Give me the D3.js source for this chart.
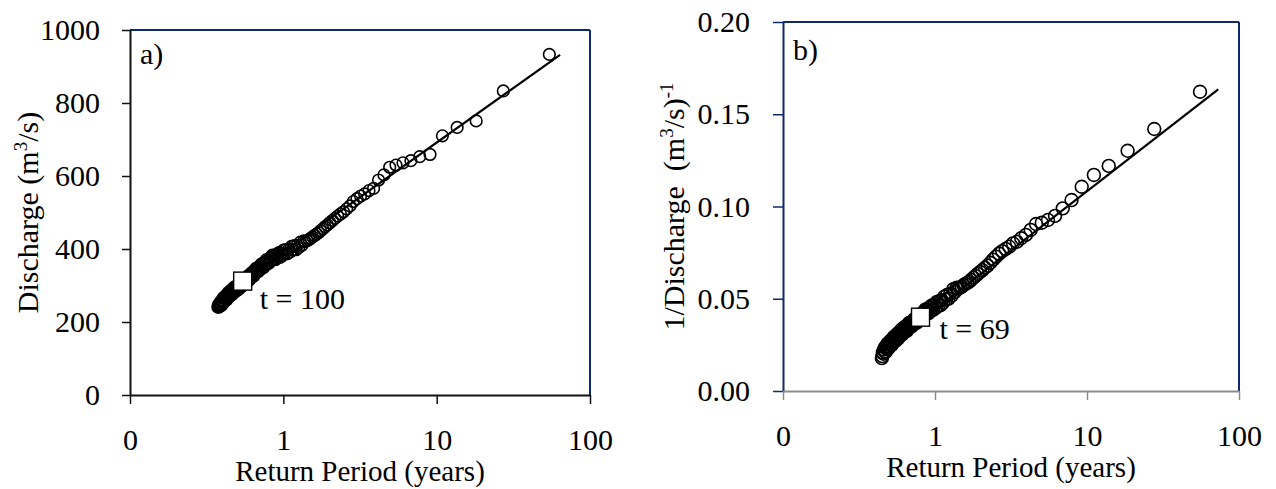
<!DOCTYPE html>
<html>
<head>
<meta charset="utf-8">
<script src="https://cdn.jsdelivr.net/npm/d3@7"></script>
<style>
  body { margin: 0; background: #fff; }
</style>
</head>
<body>
<svg id="chart" width="1276" height="489"></svg>
<script>
// Return period (years) and discharge (m3/s), panel a
const leftPeriod = [54.3, 27.2, 18.1, 13.6, 10.9, 9.05, 7.76, 6.79, 6.03, 5.43,
  4.94, 4.53, 4.18, 3.88, 3.62, 3.39, 3.19, 3.02, 2.86, 2.72,
  2.59, 2.47, 2.36, 2.26, 2.17, 2.09, 2.01, 1.94, 1.87, 1.81,
  1.75, 1.70, 1.65, 1.60, 1.55, 1.51, 1.47, 1.43, 1.39, 1.36,
  1.32, 1.29, 1.26, 1.23, 1.21, 1.18, 1.16, 1.13, 1.11, 1.09,
  1.06, 1.04, 1.02, 1.01, 0.987, 0.970, 0.953, 0.936, 0.920, 0.905,
  0.890, 0.876, 0.862, 0.848, 0.835, 0.823, 0.810, 0.799, 0.787, 0.776,
  0.765, 0.754, 0.744, 0.734, 0.724, 0.714, 0.705, 0.696, 0.687, 0.679,
  0.670, 0.662, 0.654, 0.646, 0.639, 0.631, 0.624, 0.617, 0.610, 0.603,
  0.597, 0.590, 0.584, 0.578, 0.572, 0.566, 0.560, 0.554, 0.548, 0.543,
  0.538, 0.532, 0.527, 0.522, 0.517, 0.512, 0.507, 0.503, 0.498, 0.494,
  0.489, 0.485, 0.481, 0.476, 0.472, 0.468, 0.464, 0.460, 0.456, 0.453,
  0.449, 0.445, 0.441, 0.438, 0.434, 0.431, 0.428, 0.424, 0.421, 0.418,
  0.415, 0.411, 0.408, 0.405, 0.402, 0.399, 0.396, 0.394, 0.391, 0.388,
  0.385, 0.382, 0.380, 0.377, 0.374];
const leftDischarge = [933, 833, 751, 733, 710, 659, 653, 642, 636, 630,
  624, 603, 589, 566, 560, 551, 545, 538, 530, 518,
  510, 502, 496, 490, 484, 478, 472, 466, 461, 455,
  450, 445, 441, 437, 433, 429, 426, 423, 420, 422,
  410, 419, 404, 410, 398, 409, 398, 407, 392, 400,
  387, 398, 387, 398, 382, 389, 377, 390, 379, 386,
  371, 382, 371, 383, 369, 377, 362, 370, 359, 371,
  357, 364, 349, 361, 350, 358, 343, 351, 338, 349,
  336, 347, 333, 340, 325, 337, 326, 334, 319, 327,
  314, 327, 313, 321, 308, 317, 303, 316, 305, 312,
  298, 307, 296, 308, 295, 303, 288, 301, 291, 299,
  285, 294, 282, 295, 282, 290, 275, 288, 278, 286,
  272, 280, 268, 281, 268, 275, 261, 273, 263, 271,
  257, 265, 253, 266, 253, 260, 246, 258, 248, 254,
  243, 250, 241, 246, 241];
const leftFitPeriod = [0.374, 63.8];
const leftFitDischarge = [265, 932];
const leftMarkPeriod = [0.543];
const leftMarkDischarge = [312];

// Return period (years) and 1/discharge, panel b
const rightPeriod = [55.4, 27.7, 18.5, 13.9, 11.1, 9.23, 7.91, 6.93, 6.16, 5.54,
  5.04, 4.62, 4.26, 3.96, 3.69, 3.46, 3.26, 3.08, 2.92, 2.77,
  2.64, 2.52, 2.41, 2.31, 2.22, 2.13, 2.05, 1.98, 1.91, 1.85,
  1.79, 1.73, 1.68, 1.63, 1.58, 1.54, 1.50, 1.46, 1.42, 1.39,
  1.35, 1.32, 1.29, 1.26, 1.23, 1.20, 1.18, 1.15, 1.13, 1.11,
  1.09, 1.07, 1.05, 1.03, 1.01, 0.989, 0.972, 0.955, 0.939, 0.923,
  0.908, 0.894, 0.879, 0.866, 0.852, 0.839, 0.827, 0.815, 0.803, 0.791,
  0.780, 0.769, 0.759, 0.749, 0.739, 0.729, 0.719, 0.710, 0.701, 0.693,
  0.684, 0.676, 0.667, 0.660, 0.652, 0.644, 0.637, 0.630, 0.622, 0.616,
  0.609, 0.602, 0.596, 0.589, 0.583, 0.577, 0.571, 0.565, 0.560, 0.554,
  0.549, 0.543, 0.538, 0.533, 0.528, 0.523, 0.518, 0.513, 0.508, 0.504,
  0.499, 0.495, 0.490, 0.486, 0.482, 0.478, 0.474, 0.469, 0.466, 0.462,
  0.458, 0.454, 0.450, 0.447];
const rightInverse = [0.1622, 0.1420, 0.1302, 0.1220, 0.1171, 0.1107, 0.1035, 0.0990, 0.0949, 0.0927,
  0.0912, 0.0905, 0.0873, 0.0846, 0.0828, 0.0809, 0.0800, 0.0782, 0.0770, 0.0758,
  0.0745, 0.0728, 0.0712, 0.0695, 0.0680, 0.0668, 0.0655, 0.0645, 0.0635, 0.0624,
  0.0614, 0.0603, 0.0592, 0.0586, 0.0580, 0.0573, 0.0566, 0.0560, 0.0555, 0.0560,
  0.0537, 0.0552, 0.0518, 0.0528, 0.0501, 0.0520, 0.0495, 0.0511, 0.0479, 0.0492,
  0.0465, 0.0487, 0.0463, 0.0483, 0.0451, 0.0465, 0.0439, 0.0464, 0.0440, 0.0454,
  0.0422, 0.0442, 0.0420, 0.0442, 0.0413, 0.0428, 0.0397, 0.0412, 0.0388, 0.0412,
  0.0385, 0.0399, 0.0370, 0.0394, 0.0372, 0.0389, 0.0359, 0.0376, 0.0350, 0.0372,
  0.0347, 0.0369, 0.0342, 0.0356, 0.0326, 0.0351, 0.0329, 0.0346, 0.0316, 0.0332,
  0.0307, 0.0333, 0.0306, 0.0322, 0.0295, 0.0313, 0.0284, 0.0310, 0.0287, 0.0301,
  0.0272, 0.0290, 0.0267, 0.0291, 0.0264, 0.0278, 0.0249, 0.0273, 0.0252, 0.0268,
  0.0238, 0.0255, 0.0229, 0.0256, 0.0228, 0.0242, 0.0212, 0.0236, 0.0214, 0.0225,
  0.0202, 0.0209, 0.0189, 0.0178];
const rightFitPeriod = [0.447, 73];
const rightFitInverse = [0.0219, 0.1635];
const rightMarkPeriod = [0.803];
const rightMarkInverse = [0.0400];

// axis ticks
const xTicks = [0.1, 1, 10, 100];
const xTickLabels = ['0', '1', '10', '100'];
const leftYTicks = [0, 200, 400, 600, 800, 1000];
const rightYTicks = [0, 0.05, 0.10, 0.15, 0.20];

const FONT = "'Liberation Serif', Tinos, 'Times New Roman', 'DejaVu Serif', serif";
const navy = '#0d2a6e';
const svg = d3.select('#chart').attr('font-family', FONT);

function drawPanel(cfg) {
  const x = d3.scaleLog().domain([0.1, 100]).range([cfg.left, cfg.right]);
  const y = d3.scaleLinear().domain(cfg.yDomain).range([cfg.bottom, cfg.top]);
  const g = svg.append('g');

  // frame: top and right edges
  g.append('line').attr('x1', cfg.left).attr('x2', cfg.right)
    .attr('y1', cfg.top).attr('y2', cfg.top)
    .attr('stroke', navy).attr('stroke-width', 2);
  g.append('line').attr('x1', cfg.right).attr('x2', cfg.right)
    .attr('y1', cfg.top).attr('y2', cfg.bottom)
    .attr('stroke', navy).attr('stroke-width', 2);

  // y axis
  const yAxis = g.append('g')
    .attr('transform', `translate(${cfg.left},0)`)
    .call(d3.axisLeft(y).tickValues(cfg.yTicks).tickFormat(cfg.yFormat)
      .tickSize(cfg.yTickSize).tickPadding(cfg.yPad).tickSizeOuter(0));
  yAxis.attr('font-family', FONT).attr('font-size', 30);
  yAxis.select('.domain').attr('stroke', cfg.yColor).attr('stroke-width', 2);
  yAxis.selectAll('.tick line').attr('stroke', cfg.yColor).attr('stroke-width', 1.5);
  yAxis.selectAll('.tick text').attr('fill', '#000');

  // x axis
  const xAxis = g.append('g')
    .attr('transform', `translate(0,${cfg.bottom})`)
    .call(d3.axisBottom(x).tickValues(xTicks)
      .tickFormat((d, i) => xTickLabels[i])
      .tickSize(9).tickPadding(25).tickSizeOuter(0));
  xAxis.attr('font-family', FONT).attr('font-size', 30);
  xAxis.select('.domain').attr('stroke', cfg.xColor).attr('stroke-width', 2);
  xAxis.selectAll('.tick line').attr('stroke', cfg.xColor).attr('stroke-width', 1.5);
  xAxis.selectAll('.tick text').attr('fill', '#000');

  // fitted line
  const fit = cfg.fitX.map((d, i) => [d, cfg.fitY[i]]);
  g.append('path')
    .attr('d', d3.line().x(d => x(d[0])).y(d => y(d[1]))(fit))
    .attr('fill', 'none').attr('stroke', '#000').attr('stroke-width', 2.2);

  // observations
  g.append('g').selectAll('circle')
    .data(cfg.xs.map((d, i) => [d, cfg.ys[i]]))
    .join('circle')
    .attr('cx', d => x(d[0]))
    .attr('cy', d => y(d[1]))
    .attr('r', cfg.r)
    .attr('fill', 'none')
    .attr('stroke', '#000')
    .attr('stroke-width', 1.6);

  // threshold marker
  const s = 18;
  g.append('g').selectAll('rect')
    .data(cfg.markX.map((d, i) => [d, cfg.markY[i]]))
    .join('rect')
    .attr('x', d => x(d[0]) - s / 2)
    .attr('y', d => y(d[1]) - s / 2)
    .attr('width', s).attr('height', s)
    .attr('fill', '#fff').attr('stroke', '#000').attr('stroke-width', 1.4);

  g.append('text')
    .attr('x', x(cfg.markX[0]) + cfg.markDx)
    .attr('y', y(cfg.markY[0]) + cfg.markDy)
    .attr('font-size', 30)
    .text(cfg.markLabel);

  // panel letter
  g.append('text').attr('x', cfg.left + 10).attr('y', cfg.top + cfg.letterDy)
    .attr('font-size', 30).text(cfg.letter);

  // x title
  g.append('text')
    .attr('x', (cfg.left + cfg.right) / 2).attr('y', cfg.xTitleY)
    .attr('text-anchor', 'middle').attr('font-size', 29)
    .text('Return Period (years)');

  // y title
  const yt = g.append('text')
    .attr('transform', `translate(${cfg.yTitleX},${(cfg.top + cfg.bottom) / 2}) rotate(-90)`)
    .attr('text-anchor', 'middle').attr('font-size', 30);
  cfg.yTitle(yt);
}

drawPanel({
  left: 130, right: 590, top: 30, bottom: 395,
  yDomain: [0, 1000], yTicks: leftYTicks, yFormat: d3.format('d'),
  yTickSize: 8, yPad: 22, yColor: '#111', xColor: '#111',
  xs: leftPeriod, ys: leftDischarge, r: 5.8,
  fitX: leftFitPeriod, fitY: leftFitDischarge,
  markX: leftMarkPeriod, markY: leftMarkDischarge,
  markLabel: 't = 100', markDx: 17, markDy: 28,
  letter: 'a)', letterDy: 34,
  xTitleY: 481, yTitleX: 38,
  yTitle: t => {
    t.append('tspan').text('Discharge (m');
    t.append('tspan').attr('font-size', 19).attr('dy', -11).text('3');
    t.append('tspan').attr('dy', 11).text('/s)');
  }
});

drawPanel({
  left: 783, right: 1239, top: 22, bottom: 391,
  yDomain: [0, 0.2], yTicks: rightYTicks, yFormat: d3.format('.2f'),
  yTickSize: 10, yPad: 23, yColor: navy, xColor: '#8c8c8c',
  xs: rightPeriod, ys: rightInverse, r: 6.4,
  fitX: rightFitPeriod, fitY: rightFitInverse,
  markX: rightMarkPeriod, markY: rightMarkInverse,
  markLabel: 't = 69', markDx: 19, markDy: 22,
  letter: 'b)', letterDy: 38,
  xTitleY: 477, yTitleX: 684,
  yTitle: t => {
    t.append('tspan').text('1/Discharge\u00a0\u00a0(m');
    t.append('tspan').attr('font-size', 19).attr('dy', -11).text('3');
    t.append('tspan').attr('dy', 11).text('/s)');
    t.append('tspan').attr('font-size', 19).attr('dy', -11).text('-1');
  }
});
</script>
</body>
</html>
